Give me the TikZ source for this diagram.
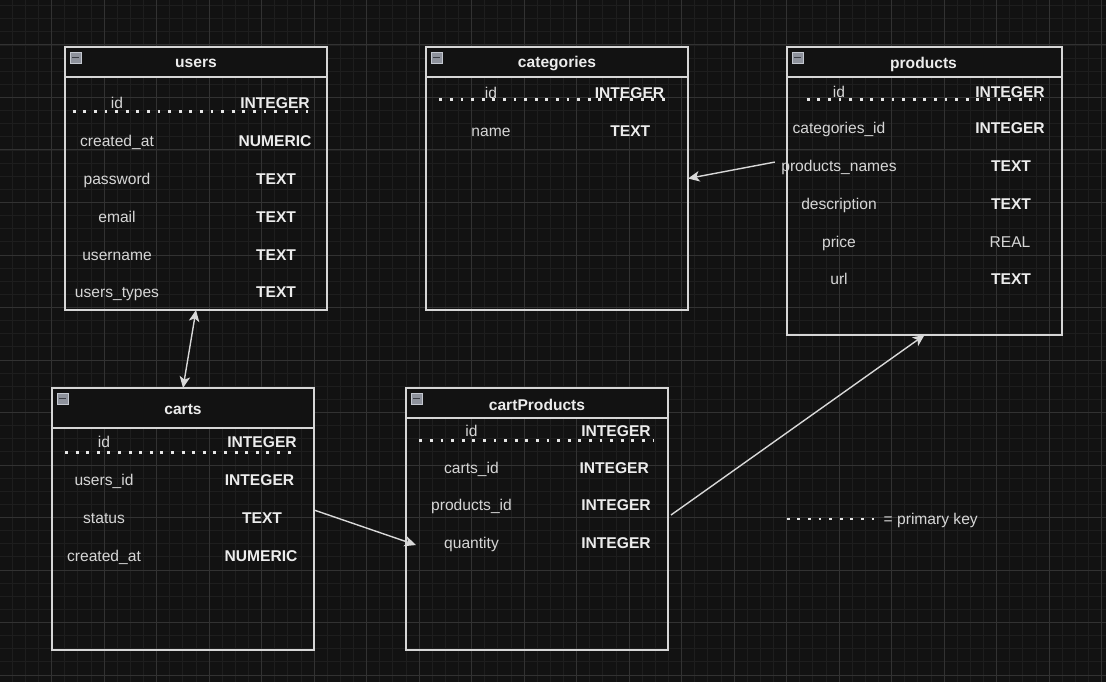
\documentclass[tikz,border=0pt]{standalone}
\usepackage{fontspec}
\setmainfont{Liberation Sans}
\usetikzlibrary{arrows.meta}

\definecolor{bgc}{HTML}{121212}
\definecolor{gridminor}{HTML}{1E1E1E}
\definecolor{gridmajor}{HTML}{323232}
\definecolor{boxline}{HTML}{D6D6D6}
\definecolor{nametext}{HTML}{D6D6D6}
\definecolor{typetext}{HTML}{ECECEC}
\definecolor{dotcol}{HTML}{E6E6E6}
\definecolor{arrowcol}{HTML}{D8D8D8}
\definecolor{iconfill}{HTML}{8E929C}
\definecolor{iconedge}{HTML}{C4C8D0}
\definecolor{iconbar}{HTML}{3A3D44}

% one ER table: name, x1, y1, x2, y2, header bottom
\newcommand\ertable[6]{%
  \fill[bgc] (#2,#3) rectangle (#4,#6);
  \node[tblframe, minimum width={(#4-#2)*1pt}, minimum height={(#5-#3)*1pt}]
    (#1) at ({(#2+#4)/2},{(#3+#5)/2}) {};
  \draw[tblline] (#2,#6) -- (#4,#6);
  \node[icon] (#1-icon) at ({#2+10.5},{#3+10.5}) {};
}

\begin{document}
\begin{tikzpicture}[x=1pt,y=-1pt,
  tblframe/.style={rectangle, draw=boxline, line width=1.3pt, inner sep=0pt, outer sep=0pt},
  tblline/.style={draw=boxline, line width=1.3pt},
  icon/.style={rectangle, minimum size=11pt, inner sep=0pt, fill=iconfill, draw=iconedge, line width=0.8pt,
    path picture={\draw[iconbar, line width=1.6pt]
      ([xshift=2.3pt]path picture bounding box.west) -- ([xshift=-2.3pt]path picture bounding box.east);}},
  title/.style={anchor=base, font=\bfseries\fontsize{15.6}{18}\selectfont, text=typetext, inner sep=2pt},
  fname/.style={anchor=base, font=\fontsize{15.6}{18}\selectfont, text=nametext},
  ftype/.style={anchor=base, font=\bfseries\fontsize{15.6}{18}\selectfont, text=typetext},
  fplain/.style={anchor=base, font=\fontsize{15.6}{18}\selectfont, text=nametext},
  pk/.style={draw=dotcol, line width=2.9pt, dash pattern=on 2.9pt off 7.7pt},
  arr/.style={draw=arrowcol, line width=1.4pt, -{Stealth[length=11.5pt,width=10.5pt,inset=3pt]}},
  arrboth/.style={draw=arrowcol, line width=1.4pt,
    {Stealth[length=11.5pt,width=10.5pt,inset=3pt]}-{Stealth[length=11.5pt,width=10.5pt,inset=3pt]}},
]
\useasboundingbox (0,0) rectangle (1106,682);
\fill[bgc] (0,0) rectangle (1106,682);

% background grid
\foreach \i in {0,...,83} {
  \pgfmathsetmacro\gx{12.3+13.125*\i}
  \draw[gridminor, line width=0.9pt] (\gx,0) -- (\gx,682);
}
\foreach \i in {0,...,51} {
  \pgfmathsetmacro\gy{5.6+13.125*\i}
  \draw[gridminor, line width=0.9pt] (0,\gy) -- (1106,\gy);
}
\foreach \i in {0,...,20} {
  \pgfmathsetmacro\gx{51.7+52.5*\i}
  \draw[gridmajor, line width=1pt] (\gx,0) -- (\gx,682);
}
\foreach \i in {0,...,12} {
  \pgfmathsetmacro\gy{45+52.5*\i}
  \draw[gridmajor, line width=1pt] (0,\gy) -- (1106,\gy);
}

% ---------- users ----------
\ertable{users}{65}{47}{327}{310}{77}
\node[title] (users-title) at (196,68) {users};
\draw[pk] (72.7,111.7) -- (308,111.7);
\node[fname] (u-id)  at (117,108.6) {id};
\node[ftype] (u-idt) at (275,108.6) {INTEGER};
\node[fname] (u-cr)  at (117,146.6) {created\_at};
\node[ftype] (u-crt) at (275,146.6) {NUMERIC};
\node[fname] (u-pw)  at (117,184.6) {password};
\node[ftype] (u-pwt) at (276,184.6) {TEXT};
\node[fname] (u-em)  at (117,222.6) {email};
\node[ftype] (u-emt) at (276,222.6) {TEXT};
\node[fname] (u-un)  at (117,260.6) {username};
\node[ftype] (u-unt) at (276,260.6) {TEXT};
\node[fname] (u-ut)  at (117,297.6) {users\_types};
\node[ftype] (u-utt) at (276,297.6) {TEXT};

% ---------- categories ----------
\ertable{categories}{426}{47}{688}{310}{77}
\node[title] (categories-title) at (557,68) {categories};
\draw[pk] (439.3,99.3) -- (672,99.3);
\node[fname] (c-id)  at (491,98.9) {id};
\node[ftype] (c-idt) at (629.5,98.9) {INTEGER};
\node[fname] (c-nm)  at (491,136.6) {name};
\node[ftype] (c-nmt) at (630.3,136.6) {TEXT};

% ---------- products ----------
\ertable{products}{787}{47}{1062}{335}{77}
\node[title] (products-title) at (923.5,68.3) {products};
\draw[pk] (806.7,99.3) -- (1040,99.3);
\node[fname] (p-id)    at (839,97.3) {id};
\node[ftype] (p-idt)   at (1010,97.3) {INTEGER};
\node[fname] (p-cat)   at (839,133.9) {categories\_id};
\node[ftype] (p-catt)  at (1010,133.9) {INTEGER};
\node[fname] (p-names) at (839,171.6) {products\_names};
\node[ftype] (p-namest)at (1011,171.6) {TEXT};
\node[fname] (p-desc)  at (839,209.4) {description};
\node[ftype] (p-desct) at (1011,209.4) {TEXT};
\node[fname] (p-pr)    at (839,247.1) {price};
\node[fplain](p-prt)   at (1010,247.1) {REAL};
\node[fname] (p-url)   at (839,284.8) {url};
\node[ftype] (p-urlt)  at (1011,284.8) {TEXT};

% ---------- carts ----------
\ertable{carts}{52}{388}{314}{650}{428}
\node[title] (carts-title) at (183,414) {carts};
\draw[pk] (65,452.7) -- (298,452.7);
\node[fname] (k-id)  at (104,447.9) {id};
\node[ftype] (k-idt) at (262,447.9) {INTEGER};
\node[fname] (k-uid) at (104,485.6) {users\_id};
\node[ftype] (k-uidt)at (259.5,485.6) {INTEGER};
\node[fname] (k-st)  at (104,523.6) {status};
\node[ftype] (k-stt) at (262,523.6) {TEXT};
\node[fname] (k-cr)  at (104,561.6) {created\_at};
\node[ftype] (k-crt) at (261,561.6) {NUMERIC};

% ---------- cartProducts ----------
\ertable{cartProducts}{406}{388}{668}{650}{418}
\node[title] (cartProducts-title) at (537,410) {cartProducts};
\draw[pk] (419.3,440.7) -- (653,440.7);
\node[fname] (cp-id)  at (471.5,436.3) {id};
\node[ftype] (cp-idt) at (616,436.3) {INTEGER};
\node[fname] (cp-cid) at (471.5,473.9) {carts\_id};
\node[ftype] (cp-cidt)at (614.2,473.9) {INTEGER};
\node[fname] (cp-pid) at (471.5,510.6) {products\_id};
\node[ftype] (cp-pidt)at (616,510.6) {INTEGER};
\node[fname] (cp-q)   at (471.5,548.6) {quantity};
\node[ftype] (cp-qt)  at (616,548.6) {INTEGER};

% ---------- relations ----------
\draw[arr] ([xshift=-3pt,yshift=5.5pt]p-names.west) -- (categories.east);
\draw[arrboth] (users.south) -- (carts.north);
\coordinate (cp-in) at ([xshift=10pt,yshift=-26pt]cartProducts.west);
\draw[arr] ([yshift=9pt]carts.east) -- (cp-in);
\draw[arr] ([xshift=3pt,yshift=4pt]cartProducts.east) -- (products.south);

% ---------- legend ----------
\node[anchor=base west, font=\fontsize{15.6}{18}\selectfont, text=nametext, inner sep=0pt]
  (legend) at (883.5,524.5) {= primary key};
\draw[pk] (786.7,519) -- (875,519);
\end{tikzpicture}
\end{document}
